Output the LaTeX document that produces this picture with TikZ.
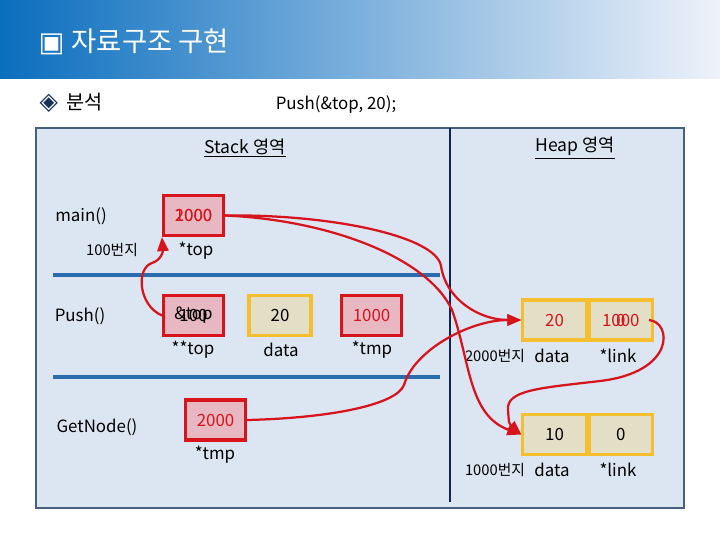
\documentclass[tikz,border=0pt]{standalone}
\usepackage{fontspec}
\setmainfont{Noto Sans CJK KR}
\newfontfamily\symfont{DejaVu Sans}
\usetikzlibrary{arrows.meta,positioning,calc}
\definecolor{bannerBlue}{HTML}{0A6EBE}
\definecolor{bannerMid}{HTML}{7FA9DA}
\definecolor{bannerPale}{HTML}{EEF2FA}
\definecolor{panelFill}{HTML}{DCE6F2}
\definecolor{panelEdge}{HTML}{46617F}
\definecolor{divNavy}{HTML}{0E2356}
\definecolor{ruleBlue}{HTML}{2B6CAE}
\definecolor{ptrRed}{HTML}{D7141C}
\definecolor{ptrFill}{HTML}{E7B8C2}
\definecolor{valEdge}{HTML}{F4BE2E}
\definecolor{valFill}{HTML}{E3DEC6}
\definecolor{markNavy}{HTML}{17305E}

\begin{document}
\begin{tikzpicture}[x=0.025cm,y=-0.025cm,
    every node/.style={font=\fontsize{12}{14}\selectfont,inner sep=1pt},
    ptrbox/.style={draw=ptrRed,fill=ptrFill,line width=2.2pt,minimum width=1.5cm,minimum height=1cm},
    valbox/.style={draw=valEdge,fill=valFill,line width=2.2pt,minimum width=1.58cm,minimum height=1cm},
    small/.style={font=\fontsize{10.5}{12}\selectfont},
    head/.style={font=\fontsize{12.5}{15}\selectfont},
    ptr/.style={ptrRed,line width=1.6pt,-{Triangle[length=10pt,width=8pt]}}]
  \useasboundingbox (0,0) rectangle (720,540);
  % title bar
  \shade[left color=bannerBlue,middle color=bannerMid,right color=bannerPale] (0,0) rectangle (720,78);
  \node[anchor=west,text=white,font=\fontsize{19.5}{23}\selectfont] (title) at (37,42) {{\symfont ▣}\hspace{5pt}자료구조 구현};
  \node[anchor=west,font=\fontsize{14}{16}\selectfont] (sub) at (38,103) {{\symfont\fontsize{17}{18}\selectfont\color{markNavy}◈}\hspace{6pt}분석};
  \node (call) at (336,105) {Push(\&top, 20);};
  % panel
  \draw[panelEdge,fill=panelFill,line width=2pt] (36,128) rectangle (684,508);
  \draw[divNavy,line width=2pt] (450,128) -- (450,502);
  \foreach \y in {275,377} {
    \draw[ruleBlue,line width=2.2pt] (53,\y) -- (440,\y);
  }
  \node[head] (stackhd) at (245,148) {\underline{Stack 영역}};
  \node[head] (heaphd) at (575,148) {\underline{Heap 영역}};
  % stack frames
  \node (mainfn) at (81,216) {main()};
  \node[small] (addr100) at (112,250) {100번지};
  \node (pushfn) at (80,316) {Push()};
  \node (getfn) at (97,427) {GetNode()};
  \node[ptrbox,text=ptrRed] (mainbox) at (193.5,215.5) {2000};
  \node[text=ptrRed] (mainold) at (mainbox) {1000};
  \node (mainlbl) at (196,251) {*top};
  \node[ptrbox] (pushtop) at (193.5,315.5) {\&top};
  \node (pushold) at (pushtop) {100};
  \node (pushtoplbl) at (193,350) {**top};
  \node[valbox,minimum width=1.55cm] (pushdata) at (280,315.5) {20};
  \node (pushdatalbl) at (281,350) {data};
  \node[ptrbox,text=ptrRed] (pushtmp) at (371.5,315.5) {1000};
  \node (pushtmplbl) at (372,350) {*tmp};
  \node[ptrbox,text=ptrRed] (gettmp) at (215.5,420) {2000};
  \node (gettmplbl) at (215,455) {*tmp};
  % heap nodes
  \node[valbox,text=ptrRed] (heapAdata) at (554.5,320) {20};
  \node[valbox,text=ptrRed,right=0pt of heapAdata] (heapAlink) {1000};
  \node[text=ptrRed] (heapAold) at (heapAlink) {0};
  \node[small] (addr2000) at (495,356) {2000번지};
  \node (heapAdatalbl) at (552,356) {data};
  \node (heapAlinklbl) at (618,356) {*link};
  \node[valbox] (heapBdata) at (554.5,434.5) {10};
  \node[valbox,right=0pt of heapBdata] (heapBlink) {0};
  \node[small] (addr1000) at (495,470) {1000번지};
  \node (heapBdatalbl) at (552,470) {data};
  \node (heapBlinklbl) at (618,470) {*link};
  % pointers
  \draw[ptr] (pushtop.west) .. controls (138,305) and (136,268) .. (152,263)
    .. controls (161,260) and (163,252) .. (mainbox.south west);
  \draw[ptr] (mainbox.east) .. controls (330,214) and (436,236) .. (441,266)
    .. controls (446,300) and (480,320) .. (heapAdata.west);
  \draw[ptr] (mainbox.east) .. controls (330,220) and (428,258) .. (452,310)
    .. controls (470,360) and (468,415) .. (heapBdata.west);
  \draw[ptr] (gettmp.east) .. controls (330,418) and (396,405) .. (404,385)
    .. controls (414,350) and (470,320) .. (heapAdata.west);
  \draw[ptr] ($(heapAlink.east)+(-5,0)$) .. controls (672,322) and (676,372) .. (600,381)
    .. controls (540,388) and (506,390) .. (508,410)
    .. controls (509,424) .. (heapBdata.west);
\end{tikzpicture}
\end{document}
